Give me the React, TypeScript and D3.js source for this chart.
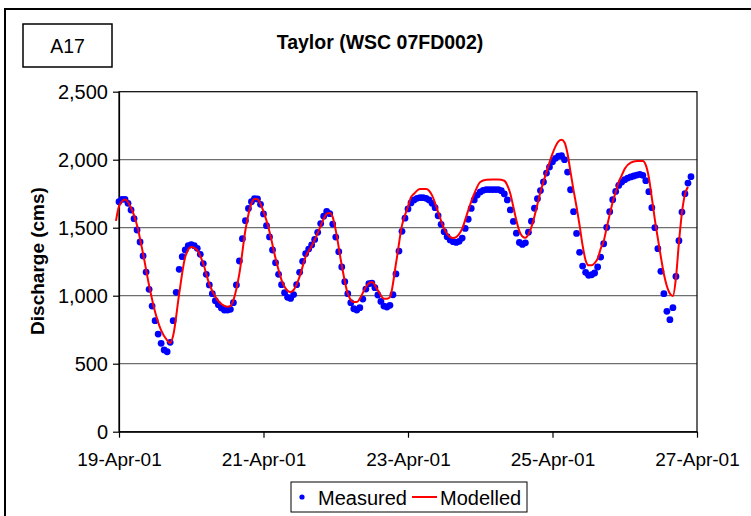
import React, { useEffect, useRef } from "react";
import * as d3 from "d3";

// hourly measured discharge starting 19-Apr-01 00:00
const measured = [
  1691, 1709, 1709, 1679, 1630, 1566, 1483, 1395, 1292, 1174, 1047, 924, 816, 718, 650, 601, 588, 657, 816, 1025,
  1194, 1287, 1336, 1368, 1375, 1368, 1348, 1304, 1236, 1157, 1079, 1015, 963, 934, 910, 895, 895, 900, 949, 1079,
  1255, 1419, 1552, 1642, 1691, 1713, 1711, 1672, 1601, 1515, 1432, 1336, 1243, 1157, 1081, 1022, 988, 980, 1008, 1081,
  1172, 1253, 1309, 1343, 1373, 1414, 1466, 1530, 1585, 1620, 1603, 1527, 1431, 1324, 1211, 1103, 1015, 949, 904, 895,
  912, 975, 1049, 1088, 1093, 1059, 1005, 958, 924, 917, 929, 1007, 1160, 1328, 1473, 1570, 1638, 1682, 1704, 1716,
  1721, 1721, 1716, 1704, 1679, 1647, 1588, 1525, 1471, 1434, 1410, 1397, 1392, 1400, 1424, 1495, 1562, 1642, 1704, 1740,
  1763, 1775, 1780, 1780, 1780, 1780, 1780, 1772, 1748, 1704, 1631, 1546, 1460, 1391, 1377, 1389, 1467, 1548, 1643, 1713,
  1773, 1836, 1902, 1946, 1985, 2010, 2027, 2029, 2000, 1909, 1779, 1618, 1458, 1319, 1218, 1172, 1150, 1154, 1167, 1211,
  1284, 1382, 1502, 1618, 1706, 1767, 1811, 1836, 1853, 1865, 1873, 1880, 1887, 1892, 1885, 1846, 1765, 1647, 1500, 1346,
  1179, 1015, 885, 824, 912, 1142, 1404, 1615, 1750, 1828, 1875,
];

// modelled discharge, hours after 19-Apr-01 00:00
const modelledHours = [
  -1, 0, 2, 4, 6, 8, 10, 12, 14, 16, 17, 18, 20, 22, 24, 26, 28, 30, 32, 34, 36, 37, 38, 40, 42, 44, 45, 46, 48, 50,
  52, 54, 56, 57, 58, 60, 62, 64, 66, 68, 69, 70, 71, 72, 74, 76, 78, 79, 80, 82, 84, 86, 88, 89, 90, 92, 94, 96, 97, 98,
  100, 102, 103, 104, 106, 108, 110, 111, 112, 114, 116, 118, 120, 122, 124, 126, 128, 129, 130, 131, 132, 133, 134, 135,
  136, 137, 138, 140, 142, 144, 145, 146, 147, 148, 149, 150, 151, 152, 153, 154, 155, 156, 157, 158, 159, 160, 161, 162,
  163, 164, 165, 166, 167, 168, 170, 172, 174, 175, 176, 177, 178, 179, 180, 181, 182, 183, 184, 185, 186, 187, 188, 189,
];
const modelledValues = [
  1550, 1657, 1708, 1647, 1517, 1309, 1076, 880, 745, 672, 652, 708, 1015, 1284, 1358, 1333, 1235, 1085, 993, 939, 919,
  924, 968, 1164, 1483, 1679, 1711, 1709, 1618, 1471, 1275, 1115, 1037, 1027, 1042, 1140, 1287, 1365, 1460, 1565, 1603,
  1608, 1578, 1480, 1223, 1015, 953, 953, 978, 1064, 1100, 1039, 978, 978, 990, 1235, 1517, 1655, 1725, 1750, 1784, 1784,
  1772, 1738, 1615, 1493, 1431, 1424, 1431, 1493, 1627, 1750, 1836, 1853, 1855, 1855, 1845, 1811, 1750, 1652, 1554, 1475,
  1436, 1426, 1451, 1505, 1583, 1762, 1909, 2044, 2098, 2135, 2147, 2127, 2044, 1909, 1775, 1652, 1517, 1370, 1260, 1223,
  1223, 1240, 1272, 1345, 1400, 1500, 1595, 1689, 1762, 1836, 1885, 1934, 1978, 1990, 1990, 1960, 1870, 1720, 1560, 1420,
  1285, 1160, 1070, 1015, 998, 1130, 1390, 1610, 1745, 1800,
];

const yTicks = [0, 500, 1000, 1500, 2000, 2500];
const xTicks = ["2001-04-19", "2001-04-21", "2001-04-23", "2001-04-25", "2001-04-27"];

const font = "'Liberation Sans', Arial, sans-serif";

const App: React.FC = () => {
  const svgRef = useRef<SVGSVGElement | null>(null);

  useEffect(() => {
    const width = 751;
    const height = 516;
    const margin = { top: 91.7, right: 54, bottom: 84.3, left: 119 };
    const start = new Date(2001, 3, 19);
    const hour = (h: number) => new Date(start.getTime() + h * 3600 * 1000);

    d3.select(svgRef.current).selectAll("*").remove();
    const svg = d3.select(svgRef.current).attr("width", width).attr("height", height);

    const x = d3
      .scaleTime()
      .domain([start, new Date(2001, 3, 27)])
      .range([margin.left, width - margin.right]);
    const y = d3
      .scaleLinear()
      .domain([0, 2500])
      .range([height - margin.bottom, margin.top]);

    // chart frame
    svg.append("rect").attr("x", 5).attr("y", 9).attr("width", 800).attr("height", 600)
      .attr("fill", "white").attr("stroke", "black").attr("stroke-width", 2);

    svg.append("rect").attr("x", 23).attr("y", 24).attr("width", 89).attr("height", 43)
      .attr("fill", "none").attr("stroke", "black").attr("stroke-width", 1.5);
    svg.append("text").attr("x", 67.5).attr("y", 53).attr("text-anchor", "middle")
      .attr("font-family", font).attr("font-size", 19.5).text("A17");

    svg.append("text").attr("x", 380).attr("y", 49).attr("text-anchor", "middle")
      .attr("font-family", font).attr("font-size", 19.5).attr("font-weight", "bold")
      .text("Taylor (WSC 07FD002)");

    // grid
    svg.append("g").selectAll("line").data(yTicks.slice(1, -1)).join("line")
      .attr("x1", margin.left).attr("x2", width - margin.right)
      .attr("y1", (d) => y(d)).attr("y2", (d) => y(d))
      .attr("stroke", "#6e6e6e").attr("stroke-width", 1.2);

    svg.append("rect").attr("x", margin.left).attr("y", margin.top)
      .attr("width", width - margin.right - margin.left).attr("height", height - margin.bottom - margin.top)
      .attr("fill", "none").attr("stroke", "black").attr("stroke-width", 1.2);

    const yAxis = svg.append("g").attr("transform", `translate(${margin.left},0)`)
      .call(d3.axisLeft(y).tickValues(yTicks).tickFormat(d3.format(",")).tickSize(6).tickSizeOuter(0).tickPadding(5));
    const xAxis = svg.append("g").attr("transform", `translate(0,${height - margin.bottom})`)
      .call(
        d3.axisBottom(x)
          .tickValues(xTicks.map((d) => d3.timeParse("%Y-%m-%d")(d) as Date))
          .tickFormat((d: any) => d3.timeFormat("%d-%b-%y")(d))
          .tickSize(6).tickSizeOuter(0).tickPadding(15)
      );
    yAxis.attr("font-size", 20);
    xAxis.attr("font-size", 19);
    [yAxis, xAxis].forEach((g) => {
      g.attr("font-family", font);
      g.selectAll("text").attr("fill", "black");
      g.selectAll("line, path").attr("stroke", "black").attr("stroke-width", 1.2);
    });

    svg.append("text")
      .attr("transform", `translate(44,261) rotate(-90)`)
      .attr("text-anchor", "middle").attr("font-family", font)
      .attr("font-size", 19).attr("font-weight", "bold").text("Discharge (cms)");

    const line = d3.line<number>()
      .x((_, i) => x(hour(modelledHours[i])))
      .y((d) => y(d))
      .curve(d3.curveMonotoneX);

    svg.append("g").selectAll("circle").data(measured).join("circle")
      .attr("cx", (_, i) => x(hour(i))).attr("cy", (d) => y(d))
      .attr("r", 3.4).attr("fill", "#0000ff");

    svg.append("path").attr("d", line(modelledValues))
      .attr("fill", "none").attr("stroke", "#ff0000").attr("stroke-width", 2);

    // legend
    const lg = svg.append("g");
    lg.append("rect").attr("x", 291).attr("y", 482).attr("width", 236).attr("height", 30)
      .attr("fill", "white").attr("stroke", "black").attr("stroke-width", 1);
    lg.append("circle").attr("cx", 302).attr("cy", 497).attr("r", 2.6).attr("fill", "#0000ff");
    lg.append("text").attr("x", 318).attr("y", 504.5).attr("font-family", font).attr("font-size", 20).text("Measured");
    lg.append("line").attr("x1", 412).attr("x2", 437).attr("y1", 497).attr("y2", 497)
      .attr("stroke", "#ff0000").attr("stroke-width", 2);
    lg.append("text").attr("x", 440).attr("y", 504.5).attr("font-family", font).attr("font-size", 20).text("Modelled");
  }, []);

  return <svg ref={svgRef} style={{ position: "absolute", left: 0, top: 0 }}></svg>;
};

export default App;
